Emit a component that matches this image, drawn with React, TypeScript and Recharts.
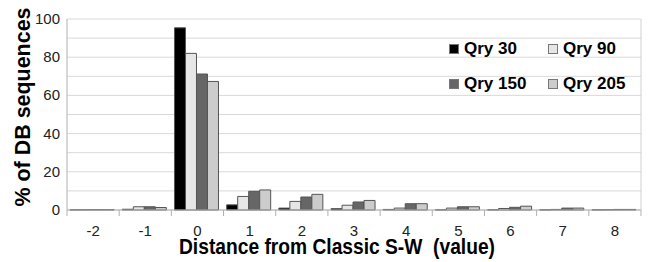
import React from 'react';
import { BarChart, Bar, XAxis, YAxis, CartesianGrid } from 'recharts';

const categories = ['-2', '-1', '0', '1', '2', '3', '4', '5', '6', '7', '8'];
const qry30 = [0.1, 0.4, 95.4, 2.7, 1.0, 0.7, 0.3, 0.1, 0.1, 0.1, 0.1];
const qry90 = [0.2, 1.7, 82.0, 7.1, 4.5, 2.5, 1.0, 1.0, 0.8, 0.3, 0.2];
const qry150 = [0.2, 1.7, 71.2, 9.8, 6.8, 4.2, 3.3, 1.7, 1.4, 1.0, 0.3];
const qry205 = [0.2, 1.3, 67.3, 10.5, 8.2, 5.0, 3.3, 1.7, 2.0, 1.0, 0.3];
const yTicks = [0, 10, 20, 30, 40, 50, 60, 70, 80, 90, 100];

const series = [
  { key: 'q30', name: 'Qry 30', color: '#000000', values: qry30 },
  { key: 'q90', name: 'Qry 90', color: '#e6e6e6', values: qry90 },
  { key: 'q150', name: 'Qry 150', color: '#666666', values: qry150 },
  { key: 'q205', name: 'Qry 205', color: '#cccccc', values: qry205 },
];

const data = categories.map((c, i) => {
  const row: any = { cat: c };
  series.forEach((s) => (row[s.key] = s.values[i]));
  return row;
});

const W = 656;
const H = 262;
const M = { top: 19, right: 14, left: 0, bottom: 0 };
const Y_W = 67;
const X_H = 52;
const PLOT_W = W - M.left - M.right - Y_W - 1;
const HALF = PLOT_W / categories.length / 2;
const FONT = '"Liberation Sans", Arial, sans-serif';

const XTick = (props: any) => {
  const { x, y, payload, index } = props;
  return (
    <g>
      <line x1={x - HALF} x2={x - HALF} y1={y} y2={y + 6} stroke="#b0b0b0" />
      {index === categories.length - 1 && (
        <line x1={x + HALF} x2={x + HALF} y1={y} y2={y + 6} stroke="#b0b0b0" />
      )}
      <text x={x} y={y + 26} textAnchor="middle" fontSize={15} fill="#222" fontFamily={FONT}>
        {payload.value}
      </text>
    </g>
  );
};

const YTick = (props: any) => {
  const { x, y, payload } = props;
  if (payload.value % 20 !== 0) return <g />;
  return (
    <text x={x} y={y + 5} textAnchor="end" fontSize={15} fill="#222" fontFamily={FONT}>
      {payload.value}
    </text>
  );
};

const LegendBox = () => (
  <div style={{ position: 'absolute', left: 449, top: 31, fontFamily: FONT, fontWeight: 'bold', fontSize: 17, color: '#000' }}>
    {[0, 1].map((r) => (
      <div key={r} style={{ display: 'flex', height: 35, alignItems: 'center' }}>
        {[0, 1].map((c) => {
          const s = series[r * 2 + c];
          return (
            <div key={c} style={{ display: 'flex', alignItems: 'center', width: 99 }}>
              <span style={{ width: 8, height: 8, background: s.color, border: '1px solid #777', marginRight: 5, display: 'inline-block' }} />
              <span>{s.name}</span>
            </div>
          );
        })}
      </div>
    ))}
  </div>
);

export default function App() {
  return (
    <div style={{ position: 'absolute', left: 0, top: 0, width: W, height: H, background: '#fff' }}>
      <BarChart width={W} height={H} data={data} margin={M} barCategoryGap="6%" barGap={0}>
        <CartesianGrid vertical={false} stroke="#d9d9d9" />
        <XAxis
          dataKey="cat"
          height={X_H}
          tick={<XTick />}
          tickLine={false}
          tickSize={0}
          tickMargin={0}
          axisLine={{ stroke: '#b0b0b0' }}
          interval={0}
        />
        <YAxis
          domain={[0, 100]}
          ticks={yTicks}
          width={Y_W}
          tick={<YTick />}
          tickLine={false}
          tickSize={0}
          tickMargin={7}
          axisLine={{ stroke: '#b0b0b0' }}
          interval={0}
        />
        <YAxis yAxisId="r" orientation="right" width={1} tick={false} tickLine={false} axisLine={{ stroke: '#d0d0d0' }} />
        {series.map((s) => (
          <Bar key={s.key} dataKey={s.key} name={s.name} fill={s.color} stroke="#555" strokeWidth={1} isAnimationActive={false} />
        ))}
      </BarChart>
      <svg width={W} height={H} style={{ position: 'absolute', left: 0, top: 0, pointerEvents: 'none' }}>
        <text
          x={0}
          y={0}
          transform="translate(29.5,107) rotate(-90)"
          textAnchor="middle"
          fontSize={22}
          fontWeight="bold"
          fontFamily={FONT}
          fill="#000"
          textLength={199}
          lengthAdjust="spacingAndGlyphs"
        >
          % of DB sequences
        </text>
        <text
          x={337}
          y={254}
          textAnchor="middle"
          fontSize={22}
          fontWeight="bold"
          fontFamily={FONT}
          fill="#000"
          textLength={316}
          lengthAdjust="spacingAndGlyphs"
          style={{ whiteSpace: 'pre' }}
        >
          {'Distance from Classic S-W  (value)'}
        </text>
      </svg>
      <LegendBox />
    </div>
  );
}
